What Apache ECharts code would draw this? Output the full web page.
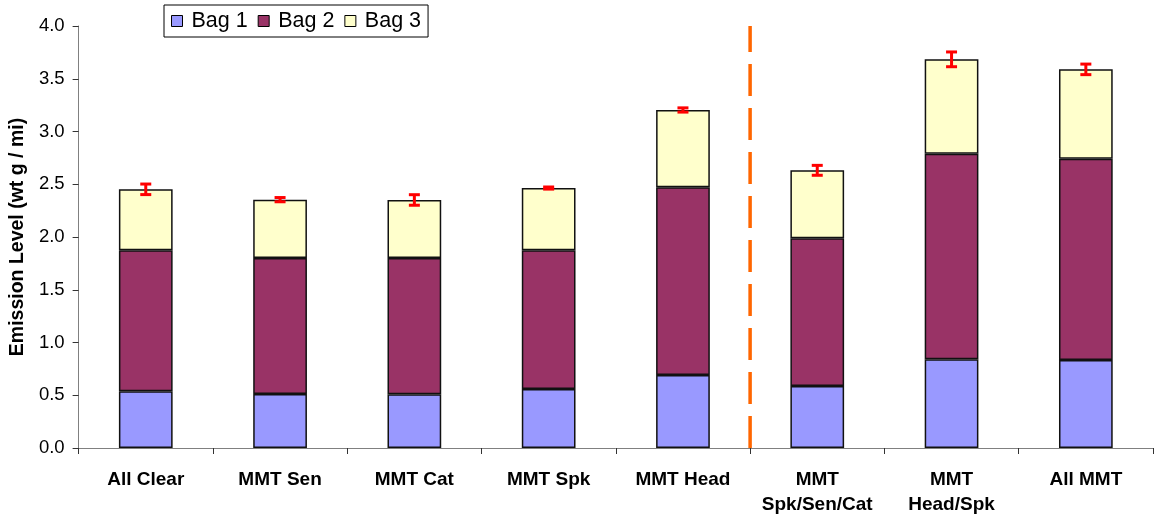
<!DOCTYPE html>
<html>
<head>
<meta charset="utf-8">
<script src="https://cdn.jsdelivr.net/npm/echarts@6/dist/echarts.min.js"></script>
<style>html,body{margin:0;padding:0;background:#fff}#c{width:1156px;height:518px}</style>
</head>
<body>
<div id="c"></div>
<script>
const categories = ['All Clear', 'MMT Sen', 'MMT Cat', 'MMT Spk', 'MMT Head', 'MMT\nSpk/Sen/Cat', 'MMT\nHead/Spk', 'All MMT'];
const bag1 = [0.537, 0.512, 0.509, 0.559, 0.692, 0.588, 0.841, 0.834];
const bag2 = [1.337, 1.289, 1.292, 1.315, 1.779, 1.400, 1.949, 1.908];
const bag3 = [0.578, 0.553, 0.550, 0.590, 0.733, 0.644, 0.894, 0.847];
const errors = [0.05, 0.02, 0.05, 0.01, 0.02, 0.047, 0.07, 0.05];
const yTicks = [0, 0.5, 1, 1.5, 2, 2.5, 3, 3.5, 4];
const dividerAt = 5; // boundary between 5th and 6th category

const totals = bag1.map((v, i) => v + bag2[i] + bag3[i]);
const font = '"Liberation Sans", Arial, sans-serif';

const chart = echarts.init(document.getElementById('c'));
const barBase = {
  type: 'bar', stack: 'total', barWidth: '40%',
  emphasis: { disabled: true }
};
chart.setOption({
  animation: false,
  grid: { left: 77, right: 3, top: 26, bottom: 70, containLabel: false },
  legend: {
    data: ['Bag 1', 'Bag 2', 'Bag 3'],
    left: 164, top: 5,
    itemWidth: 11, itemHeight: 11, itemGap: 10,
    padding: [5, 7, 5, 7],
    borderColor: '#000', borderWidth: 1, backgroundColor: '#fff',
    textStyle: { fontFamily: font, fontSize: 21.5, color: '#000', padding: [0, 0, 0, 4] },
    icon: 'rect',
    itemStyle: { borderColor: '#000', borderWidth: 1 }
  },
  xAxis: [{
    type: 'category', data: categories,
    axisLine: { lineStyle: { color: '#808080', width: 1 } },
    axisTick: { show: true, alignWithLabel: false, length: 6, inside: false, lineStyle: { color: '#333' } },
    axisLabel: { margin: 19, fontFamily: font, fontWeight: 'bold', fontSize: 19, color: '#000', lineHeight: 25, interval: 0 }
  }, {
    type: 'value', min: 0, max: categories.length, show: false
  }],
  yAxis: {
    type: 'value', min: 0, max: 4, interval: 0.5,
    name: 'Emission Level (wt g / mi)', nameLocation: 'middle', nameGap: 50,
    nameTextStyle: { fontFamily: font, fontWeight: 'bold', fontSize: 19.5, color: '#000' },
    axisLine: { show: true, lineStyle: { color: '#808080', width: 1 } },
    axisTick: { show: true, length: 6, lineStyle: { color: '#333' } },
    splitLine: { show: false },
    axisLabel: { margin: 14, fontFamily: font, fontSize: 18.5, color: '#000', formatter: v => v.toFixed(1) }
  },
  series: [
    Object.assign({}, barBase, { name: 'Bag 1', data: bag1, itemStyle: { color: '#9999FF', borderColor: '#111', borderWidth: 1.5 } }),
    Object.assign({}, barBase, { name: 'Bag 2', data: bag2, itemStyle: { color: '#993366', borderColor: '#111', borderWidth: 1.5 } }),
    Object.assign({}, barBase, { name: 'Bag 3', data: bag3, itemStyle: { color: '#FFFFCC', borderColor: '#111', borderWidth: 1.5 } }),
    {
      type: 'custom', name: 'err', z: 10,
      data: totals.map((t, i) => [i, t, errors[i]]),
      renderItem: function (params, api) {
        const i = api.value(0), t = api.value(1), e = api.value(2);
        const hi = api.coord([i, t + e]);
        const lo = api.coord([i, t - e]);
        const x = hi[0], w = 5.5;
        const st = { stroke: '#FF0000', lineWidth: 3 };
        return { type: 'group', children: [
          { type: 'line', shape: { x1: x, y1: hi[1], x2: x, y2: lo[1] }, style: st },
          { type: 'line', shape: { x1: x - w, y1: hi[1], x2: x + w, y2: hi[1] }, style: st },
          { type: 'line', shape: { x1: x - w, y1: lo[1], x2: x + w, y2: lo[1] }, style: st }
        ] };
      }
    },
    {
      type: 'line', xAxisIndex: 1, symbol: 'none', silent: true, z: 1,
      data: [[dividerAt, 0], [dividerAt, 4]],
      lineStyle: { color: '#FF6600', width: 3.5, type: [32, 12] }
    }
  ]
});
</script>
</body>
</html>
